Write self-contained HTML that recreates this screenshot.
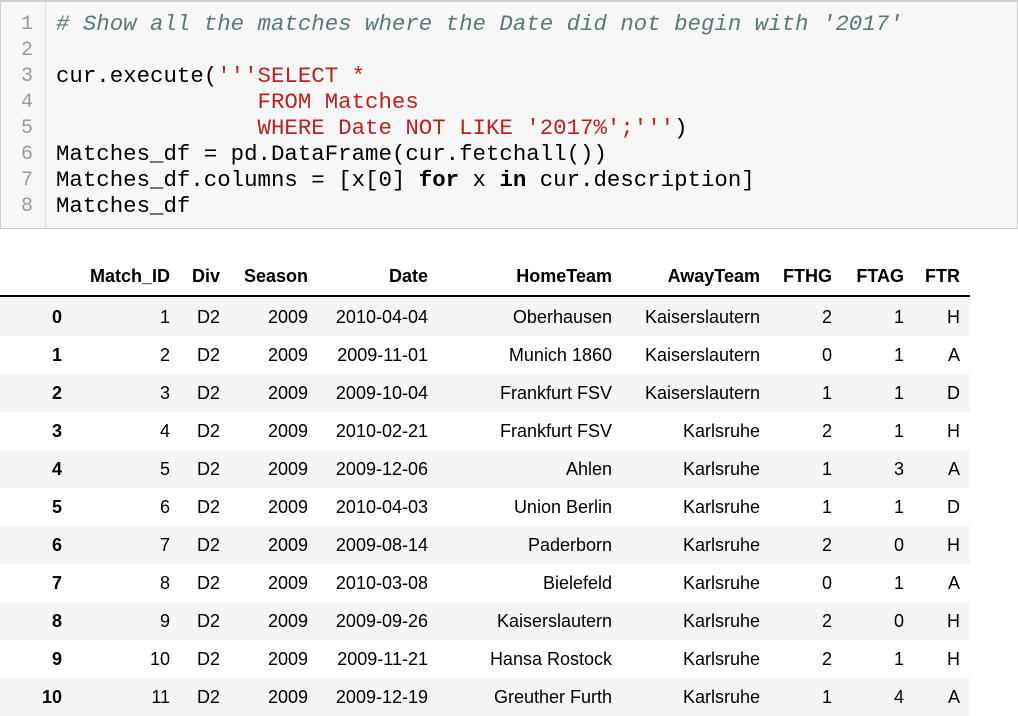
<!DOCTYPE html>
<html><head><meta charset="utf-8"><style>
body{margin:0;width:1018px;height:716px;overflow:hidden;background:#fff;position:relative}
#code{position:absolute;left:0;top:0;width:1016px;height:226px;background:#f7f7f7;border:1px solid #cfcfcf;border-top:2px solid #cfcfcf}
#gutter{position:absolute;left:0;top:0;width:44px;height:226px;border-right:1px solid #ddd}
.ln{position:absolute;left:0;width:32px;text-align:right;font:20px "Liberation Mono",monospace;color:#999}
.cl{position:absolute;left:55px;font:22.4px "Liberation Mono",monospace;color:#000;white-space:pre}
.cm{color:#5a7878;font-style:italic}.st{color:#ba2121}.kw{color:#000;font-weight:bold}
.t{position:absolute;font:18px "Liberation Sans",Arial,sans-serif;color:#000;white-space:nowrap;text-align:right}
.h{font-weight:bold}
.band{position:absolute;left:0;width:970px;height:38px;background:#f5f5f5}
</style></head><body>
<div id="code">
<div id="gutter"></div>
</div>
<div id="table"></div>
<script>
const codeLines=[
'<span class="cm"># Show all the matches where the Date did not begin with \'2017\'</span>',
'',
'cur.execute(<span class="st">\'\'\'SELECT *</span>',
'<span class="st">               FROM Matches</span>',
'<span class="st">               WHERE Date NOT LIKE \'2017%\';\'\'\'</span>)',
'Matches_df = pd.DataFrame(cur.fetchall())',
'Matches_df.columns = [x[0] <span class="kw">for</span> x <span class="kw">in</span> cur.description]',
'Matches_df'];
const code=document.getElementById('code');
codeLines.forEach((l,i)=>{
 const n=document.createElement('div');n.className='ln';n.style.top=(11+i*26)+'px';n.textContent=i+1;
 
 
 code.appendChild(n);
 const d=document.createElement('div');d.className='cl';d.style.top=(9+i*26)+'px';d.innerHTML=l;
 
 
 code.appendChild(d);
});
const headers=['','Match_ID','Div','Season','Date','HomeTeam','AwayTeam','FTHG','FTAG','FTR'];
const rightEdges=[62,170,220,308,428,612,760,832,904,960];
const rows=[
[0,1,'D2',2009,'2010-04-04','Oberhausen','Kaiserslautern',2,1,'H'],
[1,2,'D2',2009,'2009-11-01','Munich 1860','Kaiserslautern',0,1,'A'],
[2,3,'D2',2009,'2009-10-04','Frankfurt FSV','Kaiserslautern',1,1,'D'],
[3,4,'D2',2009,'2010-02-21','Frankfurt FSV','Karlsruhe',2,1,'H'],
[4,5,'D2',2009,'2009-12-06','Ahlen','Karlsruhe',1,3,'A'],
[5,6,'D2',2009,'2010-04-03','Union Berlin','Karlsruhe',1,1,'D'],
[6,7,'D2',2009,'2009-08-14','Paderborn','Karlsruhe',2,0,'H'],
[7,8,'D2',2009,'2010-03-08','Bielefeld','Karlsruhe',0,1,'A'],
[8,9,'D2',2009,'2009-09-26','Kaiserslautern','Karlsruhe',2,0,'H'],
[9,10,'D2',2009,'2009-11-21','Hansa Rostock','Karlsruhe',2,1,'H'],
[10,11,'D2',2009,'2009-12-19','Greuther Furth','Karlsruhe',1,4,'A']];
const tb=document.getElementById('table');
function txt(s,x,cy,cls,name){
 const e=document.createElement('div');e.className='t '+cls;e.textContent=s;
 e.style.right=(1018-x)+'px';e.style.top=(cy-11)+'px';
 
 
 tb.appendChild(e);
}
headers.forEach((h,i)=>{if(h)txt(h,rightEdges[i],277,'h','column-header');});
const line=document.createElement('div');line.style.cssText='position:absolute;left:0;top:295px;width:970px;height:2px;background:#000';


tb.appendChild(line);
rows.forEach((r,ri)=>{
 const top=298+ri*38;
 if(ri%2===0){const b=document.createElement('div');b.className='band';b.style.top=top+'px';
 
 
 tb.appendChild(b);}
 r.forEach((v,ci)=>txt(String(v),rightEdges[ci],top+20,ci===0?'h':'',ci===0?'row-index':'table-cell'));
});
</script>
</body></html>
